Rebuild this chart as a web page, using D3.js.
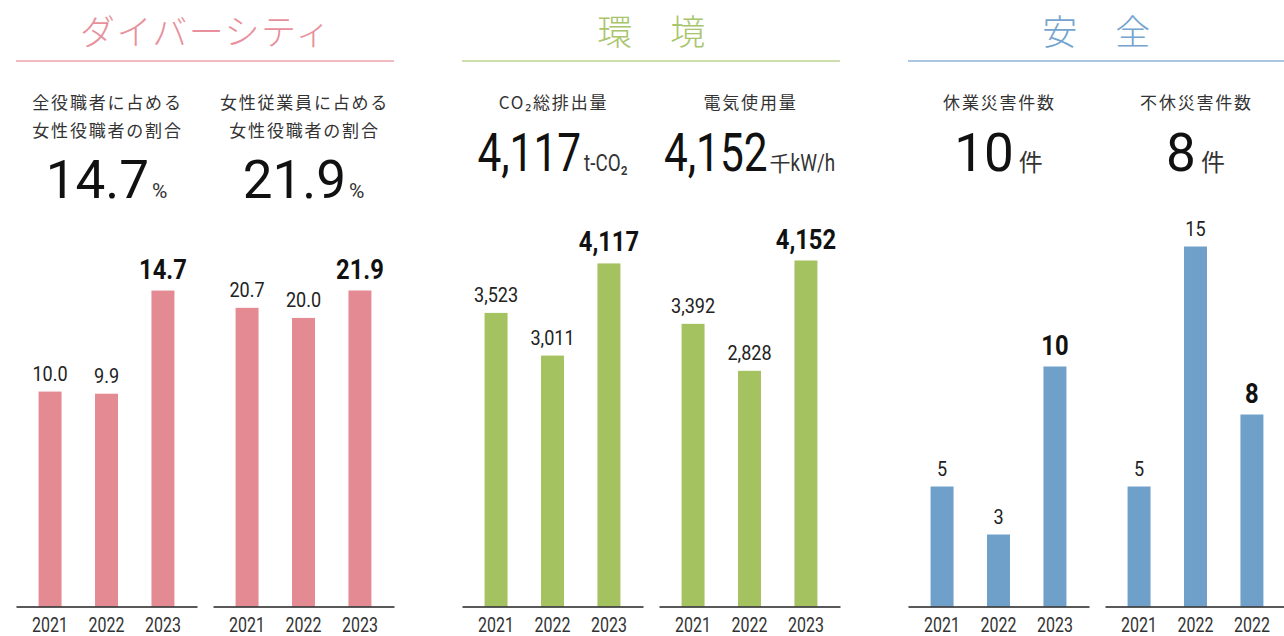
<!DOCTYPE html>
<html><head><meta charset="utf-8">
<script src="https://cdn.jsdelivr.net/npm/d3@7"></script>
<style>
html,body{margin:0;padding:0;background:#fff;}
svg{display:block;}
</style></head>
<body>
<svg id="chart" width="1284" height="636"></svg>
<script>
// ---------- DATA ----------
const sectionTitles = ["ダイバーシティ", "環　境", "安　全"];
const panelTitles = [
  ["全役職者に占める", "女性役職者の割合"],
  ["女性従業員に占める", "女性役職者の割合"],
  ["CO₂総排出量"],
  ["電気使用量"],
  ["休業災害件数"],
  ["不休災害件数"]
];
const yearLabels = ["2021", "2022", "2023"];
const yearLabelsLast = ["2021", "2022", "2022"];
const femaleManagerShare = [10.0, 9.9, 14.7];
const femaleEmployeeManagerShare = [20.7, 20.0, 21.9];
const co2Emissions = [3523, 3011, 4117];
const electricityUse = [3392, 2828, 4152];
const lostTimeAccidents = [5, 3, 10];
const nonLostTimeAccidents = [5, 15, 8];
const headlineUnits = ["%", "%", "t-CO₂", "千kW/h", "件", "件"];
const domainMax = [16.75, 24.95, 4320, 4320, 15, 15];

// ---------- STYLE / LAYOUT ----------
const sectionColors = [
  {bar:"#E48A93", title:"#E8909B", line:"#EBA3AB"},
  {bar:"#A5C260", title:"#A8C56C", line:"#BCD38F"},
  {bar:"#6FA0C9", title:"#74A4CF", line:"#8EB4D8"}
];
const sectionRanges = [[16,394],[462,840],[908,1284]];
const panelX = [16, 213, 462, 659, 908, 1105];
const panelW = 181;
const baseY = 606.5;
const plotH = 360;
const cjk = "'Noto Sans CJK JP','Noto Sans',sans-serif";
const num = "Roboto,'Noto Sans',sans-serif";

const panels = [
  {sec:0, values:femaleManagerShare, labels:yearLabels, fmt:d3.format(".1f"), bigY:198},
  {sec:0, values:femaleEmployeeManagerShare, labels:yearLabels, fmt:d3.format(".1f"), bigY:198},
  {sec:1, values:co2Emissions, labels:yearLabels, fmt:d3.format(","), bigY:171, cond:0.8},
  {sec:1, values:electricityUse, labels:yearLabels, fmt:d3.format(","), bigY:171, cond:0.8},
  {sec:2, values:lostTimeAccidents, labels:yearLabels, fmt:d3.format("d"), bigY:171},
  {sec:2, values:nonLostTimeAccidents, labels:yearLabelsLast, fmt:d3.format("d"), bigY:171}
];

const svg = d3.select("#chart");

// section headers
sectionTitles.forEach((t,i)=>{
  const [a,b] = sectionRanges[i];
  svg.append("text")
    .attr("x",(a+b)/2 + 1).attr("y",45)
    .attr("text-anchor","middle")
    .style("font-family",cjk).style("font-size","35px").style("font-weight",300)
    .style("letter-spacing","1.5px")
    .attr("fill",sectionColors[i].title).text(t);
  svg.append("line").attr("x1",a).attr("x2",b).attr("y1",61).attr("y2",61)
    .attr("stroke",sectionColors[i].line).attr("stroke-width",1.5);
});

panels.forEach((p,pi)=>{
  const x0 = panelX[pi];
  const cx = x0 + panelW/2;
  const col = sectionColors[p.sec];
  const g = svg.append("g");

  // subtitle
  panelTitles[pi].forEach((line,li)=>{
    g.append("text").attr("x",cx+1).attr("y",109 + li*28)
      .attr("text-anchor","middle")
      .style("font-family",cjk).style("font-size","17px")
      .style("letter-spacing","1.8px")
      .attr("fill","#333").text(line);
  });

  // headline value
  const last = p.values[p.values.length-1];
  const hg = g.append("g");
  const sx = p.cond || 1;
  const nt = hg.append("text").attr("x",0).attr("y",0)
    .attr("transform",`scale(${sx},1)`)
    .style("font-family",num).style("font-size","53px")
    .attr("fill","#111").text(p.fmt(last));
  const nw = nt.node().getComputedTextLength()*sx;
  const unit = headlineUnits[pi];
  const isCJKunit = /^[件]$/.test(unit);
  let uw = 0;
  if (unit === "千kW/h") {
    const u1 = hg.append("text").attr("x",nw+2).attr("y",0)
      .style("font-family",cjk).style("font-size","21px").attr("fill","#333").text("千");
    const w1 = u1.node().getComputedTextLength();
    const u2 = hg.append("text").attr("transform",`translate(${nw+2+w1},0) scale(0.82,1)`)
      .style("font-family",num).style("font-size","23px").attr("fill","#333").text("kW/h");
    uw = 2 + w1 + u2.node().getComputedTextLength()*0.82;
  } else if (isCJKunit) {
    const u = hg.append("text").attr("x",nw+5).attr("y",0)
      .style("font-family",cjk).style("font-size","24px").attr("fill","#333").text(unit);
    uw = 5 + u.node().getComputedTextLength();
  } else {
    const us = unit === "%" ? 1 : 0.82;
    const u = hg.append("text").attr("transform",`translate(${nw+3},0) scale(${us},1)`)
      .style("font-family",num).style("font-size", unit === "%" ? "21px" : "23px")
      .attr("fill","#333").text(unit);
    uw = 3 + u.node().getComputedTextLength()*us;
  }
  hg.attr("transform",`translate(${cx - (nw+uw)/2},${p.bigY})`);

  // scales
  const x = d3.scaleBand().domain(d3.range(p.values.length))
    .range([x0, x0+panelW]).paddingInner(0.593).paddingOuter(0.4);
  const y = d3.scaleLinear().domain([0, domainMax[pi]]).range([baseY, baseY - plotH]);

  g.selectAll("rect.bar").data(p.values).join("rect").attr("class","bar")
    .attr("x",(d,i)=>x(i)).attr("width",x.bandwidth())
    .attr("y",d=>y(d)).attr("height",d=>baseY - y(d))
    .attr("fill",col.bar);

  // value labels
  g.selectAll("text.val").data(p.values).join("text").attr("class","val")
    .attr("transform",(d,i)=>{
      const isLast = i === p.values.length-1;
      return `translate(${x(i)+x.bandwidth()/2},${y(d) - (isLast?12:11)}) scale(${isLast?0.88:0.86},1)`;
    })
    .attr("text-anchor","middle")
    .style("font-family",num)
    .style("font-size",(d,i)=> i===p.values.length-1 ? "27px" : "21px")
    .style("font-weight",(d,i)=> i===p.values.length-1 ? 700 : 400)
    .attr("fill",(d,i)=> i===p.values.length-1 ? "#111" : "#222")
    .text(d=>p.fmt(d));

  // axis
  const axis = d3.axisBottom(x).tickSize(0).tickSizeOuter(0).tickFormat(i=>p.labels[i]);
  const ag = g.append("g").attr("transform",`translate(0,${baseY})`).call(axis);
  ag.select(".domain").attr("stroke","#222").attr("stroke-width",1.5);
  ag.selectAll(".tick text")
    .attr("y",0).attr("dy",0)
    .attr("transform","translate(0,25.5) scale(0.82,1)")
    .style("font-family",num).style("font-size","19.5px")
    .attr("fill","#333");
});
</script>
</body></html>
